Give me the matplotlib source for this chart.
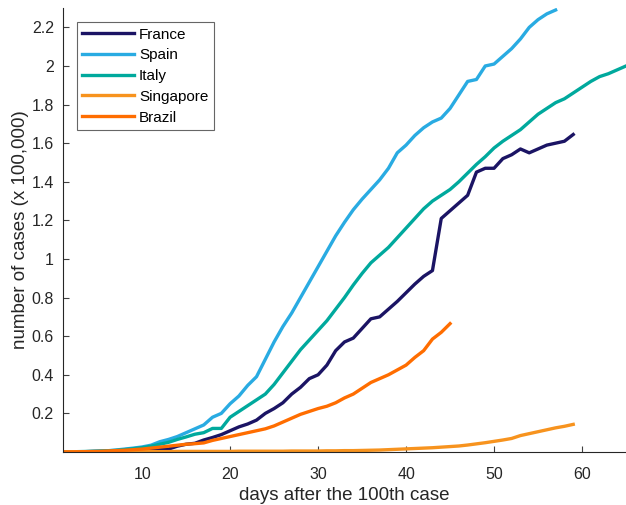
import matplotlib.pyplot as plt
import numpy as np
from matplotlib.ticker import FormatStrFormatter

plt.rcParams['font.family'] = ['Liberation Sans', 'DejaVu Sans']

# cases (x 100,000) per day after the 100th case
france = [0.0, 0.001, 0.001, 0.002, 0.003, 0.004, 0.005, 0.006, 0.008, 0.01,
          0.012, 0.013, 0.015, 0.03, 0.04, 0.045, 0.062, 0.075, 0.09, 0.11,
          0.13, 0.145, 0.165, 0.2, 0.225, 0.255, 0.3, 0.335, 0.38, 0.4,
          0.45, 0.525, 0.57, 0.59, 0.64, 0.69, 0.7, 0.74, 0.78, 0.825,
          0.87, 0.91, 0.94, 1.21, 1.25, 1.29, 1.33, 1.45, 1.47, 1.47,
          1.52, 1.54, 1.57, 1.55, 1.57, 1.59, 1.6, 1.61, 1.645]
spain = [0.0, 0.0, 0.001, 0.002, 0.004, 0.006, 0.01, 0.015, 0.02, 0.026,
         0.035, 0.053, 0.065, 0.08, 0.1, 0.12, 0.14, 0.18, 0.2, 0.25,
         0.29, 0.345, 0.39, 0.48, 0.57, 0.65, 0.72, 0.8, 0.88, 0.96,
         1.04, 1.12, 1.19, 1.255, 1.31, 1.36, 1.41, 1.47, 1.55, 1.59,
         1.64, 1.68, 1.71, 1.73, 1.78, 1.85, 1.92, 1.93, 2.0, 2.01,
         2.05, 2.09, 2.14, 2.2, 2.24, 2.27, 2.29]
italy = [0.0, 0.001, 0.002, 0.003, 0.004, 0.006, 0.008, 0.012, 0.017, 0.022,
         0.03, 0.04, 0.05, 0.065, 0.078, 0.092, 0.1, 0.122, 0.122, 0.18,
         0.21, 0.24, 0.27, 0.3, 0.35, 0.41, 0.47, 0.53, 0.58, 0.63,
         0.68, 0.74, 0.8, 0.865, 0.925, 0.98, 1.02, 1.06, 1.11, 1.16,
         1.21, 1.26, 1.3, 1.33, 1.36, 1.4, 1.445, 1.49, 1.53, 1.575,
         1.61, 1.64, 1.67, 1.71, 1.75, 1.78, 1.81, 1.83, 1.86, 1.89,
         1.92, 1.945, 1.96, 1.98, 2.0]
singapore = [0.001, 0.001, 0.001, 0.001, 0.001, 0.001, 0.002, 0.002, 0.002, 0.002,
             0.002, 0.002, 0.002, 0.003, 0.003, 0.003, 0.003, 0.003, 0.003, 0.003,
             0.004, 0.004, 0.004, 0.004, 0.004, 0.004, 0.005, 0.005, 0.005, 0.005,
             0.006, 0.006, 0.007, 0.007, 0.008, 0.009, 0.01, 0.012, 0.014, 0.016,
             0.018, 0.02, 0.022, 0.025, 0.028, 0.031, 0.036, 0.042, 0.048, 0.055,
             0.062, 0.07, 0.085, 0.095, 0.105, 0.115, 0.125, 0.133, 0.143]
brazil = [0.0, 0.0, 0.001, 0.002, 0.003, 0.005, 0.007, 0.009, 0.012, 0.015,
          0.02, 0.025, 0.03, 0.035, 0.04, 0.043, 0.047, 0.06, 0.07, 0.08,
          0.09, 0.1, 0.11, 0.12, 0.135, 0.155, 0.175, 0.195, 0.21, 0.225,
          0.237, 0.255, 0.28, 0.3, 0.33, 0.36, 0.38, 0.4, 0.425, 0.45,
          0.49, 0.525, 0.585, 0.62, 0.665]

series = [("France", france, "#1b1464"),
          ("Spain", spain, "#29abe2"),
          ("Italy", italy, "#00a99d"),
          ("Singapore", singapore, "#f7931e"),
          ("Brazil", brazil, "#ff6d00")]

fig = plt.figure(figsize=(6.26, 5.05), dpi=100)
ax = fig.add_axes([0.1006, 0.105, 0.8994, 0.879])

for name, vals, col in series:
    days = np.arange(1, len(vals) + 1)
    ax.plot(days, vals, color=col, lw=2.4, label=name)

ax.set_xlim(1, 65)
ax.set_ylim(0, 2.3)
ax.set_xticks([10, 20, 30, 40, 50, 60])
ax.set_yticks(np.arange(0.2, 2.21, 0.2))
ax.yaxis.set_major_formatter(FormatStrFormatter('%g'))
ax.tick_params(direction='in', length=4, labelsize=11.5,
               colors='#404040', labelcolor='#262626')
ax.tick_params(axis='x', pad=10.5)
ax.tick_params(axis='y', pad=6.5)

for s in ['top', 'right']:
    ax.spines[s].set_visible(False)
for s in ['left', 'bottom']:
    ax.spines[s].set_color('#262626')
    ax.spines[s].set_linewidth(0.8)

ax.set_xlabel("days after the 100th case", fontsize=13.5, color='#262626', labelpad=4)
ax.set_ylabel("number of cases (x 100,000)", fontsize=13.5, color='#262626', labelpad=2)

leg = ax.legend(loc='upper left', bbox_to_anchor=(0.0249, 0.968), fontsize=11,
                frameon=True, fancybox=False, handlelength=3.35,
                borderaxespad=0, labelspacing=0.44, handletextpad=0.35,
                borderpad=0.35)
leg.get_frame().set_edgecolor('#404040')
leg.get_frame().set_linewidth(0.8)

fig.savefig("out.png", dpi=100)
